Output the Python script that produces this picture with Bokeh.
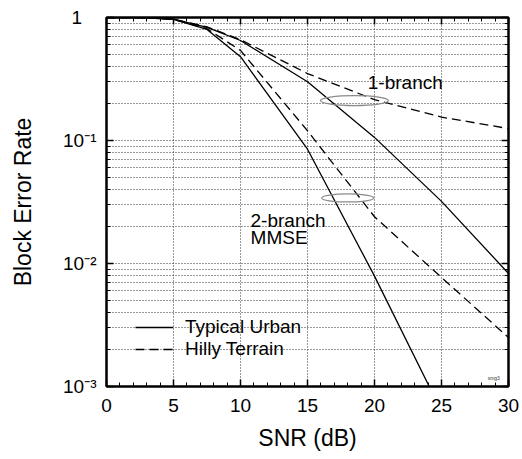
from bokeh.plotting import figure
from bokeh.models import (FixedTicker, LogAxis, LinearAxis, Legend, LegendItem,
                          CustomJSTickFormatter)
from bokeh.core.properties import value
from bokeh.embed import file_html
from bokeh.resources import INLINE

# ---------------- data ----------------
snr_tu1 = [0, 2.5, 5, 7.5, 10, 15, 20, 25, 30]
bler_tu1 = [1.0, 0.998, 0.97, 0.83, 0.65, 0.30, 0.106, 0.032, 0.0083]

snr_ht1 = [0, 2.5, 5, 7.5, 10, 15, 20, 25, 30]
bler_ht1 = [1.0, 0.998, 0.97, 0.84, 0.66, 0.35, 0.215, 0.155, 0.125]

snr_tu2 = [0, 2.5, 5, 7.5, 10, 15, 20, 25]
bler_tu2 = [1.0, 0.998, 0.965, 0.80, 0.48, 0.085, 0.0079, 0.00063]

snr_ht2 = [0, 2.5, 5, 7.5, 10, 15, 20, 25, 30]
bler_ht2 = [1.0, 0.998, 0.968, 0.81, 0.54, 0.12, 0.024, 0.0077, 0.0025]

x_ticks = [0, 5, 10, 15, 20, 25, 30]
x_tick_labels = ["0", "5", "10", "15", "20", "25", "30"]
y_ticks = [0.001, 0.01, 0.1, 1]
y_tick_labels = ["10\u207b\u00b3", "10\u207b\u00b2", "10\u207b\u00b9", "1\u2007\u2009"]

legend_labels = ["Typical Urban", "Hilly Terrain"]

annot_text = ["1-branch", "2-branch", "MMSE"]
annot_x = [19.5, 10.75, 10.75]
annot_y = [0.298, 0.0224, 0.0162]

ellipse_x = [18.5, 18.0]
ellipse_y = [0.211, 0.0341]

FONT = "Liberation Sans"

# ---------------- figure ----------------
p = figure(width=520, height=457, x_range=(0, 30), y_range=(0.001, 1),
           y_axis_type="log", output_backend="svg", toolbar_location=None,
           min_border_left=106, min_border_right=12, min_border_top=17,
           min_border_bottom=71)
p.background_fill_color = "white"
p.border_fill_color = "white"
p.outline_line_color = "black"
p.outline_line_width = 2

x_minor = [v for v in range(0, 31) if v % 5 != 0]
y_minor = [m * d for d in (0.001, 0.01, 0.1) for m in range(2, 10)]

xt = FixedTicker(ticks=x_ticks, minor_ticks=x_minor)
yt = FixedTicker(ticks=y_ticks, minor_ticks=y_minor)

# grids
p.xgrid.ticker = FixedTicker(ticks=x_ticks[1:-1])
p.xgrid.grid_line_color = "#333333"
p.xgrid.grid_line_dash = "1 2"
p.xgrid.grid_line_width = 1
p.ygrid.ticker = yt
p.ygrid.grid_line_color = "#333333"
p.ygrid.grid_line_dash = "1 2"
p.ygrid.grid_line_width = 1
p.ygrid.minor_grid_line_color = "#333333"
p.ygrid.minor_grid_line_dash = "1 2"
p.ygrid.minor_grid_line_width = 1


def style_axis(ax):
    ax.axis_line_color = "black"
    ax.axis_line_width = 2
    ax.major_tick_in = 7
    ax.major_tick_out = 0
    ax.minor_tick_in = 4
    ax.minor_tick_out = 0
    ax.major_tick_line_width = 1.5
    ax.minor_tick_line_width = 1
    ax.major_label_text_font = FONT
    ax.major_label_text_font_size = "19px"
    ax.major_label_text_color = "black"
    ax.axis_label_text_font = FONT
    ax.axis_label_text_font_style = "normal"
    ax.axis_label_text_font_size = "23px"
    ax.axis_label_text_color = "black"


xa = p.xaxis[0]
xa.ticker = xt
xa.major_label_overrides = dict(zip(x_ticks, x_tick_labels))
xa.axis_label = "SNR (dB)"
style_axis(xa)
xa.major_label_standoff = 12
xa.axis_label_standoff = 10

ya = p.yaxis[0]
ya.ticker = yt
ya.major_label_overrides = dict(zip(y_ticks, y_tick_labels))
ya.axis_label = "Block Error Rate"
style_axis(ya)
ya.major_label_standoff = 10
ya.axis_label_standoff = 24

blank = CustomJSTickFormatter(code="return ''")
top = LinearAxis(ticker=FixedTicker(ticks=x_ticks, minor_ticks=x_minor), formatter=blank)
style_axis(top)
top.major_label_text_font_size = "1px"
top.major_label_standoff = 0
p.add_layout(top, "above")
right = LogAxis(ticker=FixedTicker(ticks=y_ticks, minor_ticks=y_minor), formatter=blank)
style_axis(right)
right.major_label_text_font_size = "1px"
right.major_label_standoff = 0
p.add_layout(right, "right")

# curves
r_tu1 = p.line(snr_tu1, bler_tu1, line_color="black", line_width=1.3)
r_tu2 = p.line(snr_tu2, bler_tu2, line_color="black", line_width=1.3)
r_ht1 = p.line(snr_ht1, bler_ht1, line_color="black", line_width=1.3, line_dash="9 5")
r_ht2 = p.line(snr_ht2, bler_ht2, line_color="black", line_width=1.3, line_dash="9 5")

# grouping ellipses
p.ellipse(x=ellipse_x, y=ellipse_y, width=[68, 52], height=[10, 8],
          width_units="screen", height_units="screen",
          fill_color=None, line_color="#8a8a8a", line_width=1.2)

# annotations
p.text(x=annot_x, y=annot_y, text=annot_text, text_font=value(FONT),
       text_font_size="19px", text_baseline="alphabetic", text_align="left",
       text_color="black")
p.text(x=[28.9], y=[0.00118], text=["smg3"], text_font=value(FONT),
       text_font_size="5px", text_baseline="middle", text_align="center",
       text_color="#333333")

legend = Legend(items=[LegendItem(label=legend_labels[0], renderers=[r_tu1]),
                       LegendItem(label=legend_labels[1], renderers=[r_ht1])],
                location=(29, 26))
legend.border_line_color = None
legend.background_fill_alpha = 0
legend.padding = 0
legend.margin = 0
legend.spacing = 0
legend.glyph_width = 38
legend.glyph_height = 20
legend.label_height = 20
legend.label_standoff = 12
legend.label_text_font = FONT
legend.label_text_font_size = "19px"
legend.label_text_color = "black"
p.add_layout(legend, "center")

open("out.html", "w").write(file_html(p, INLINE))
